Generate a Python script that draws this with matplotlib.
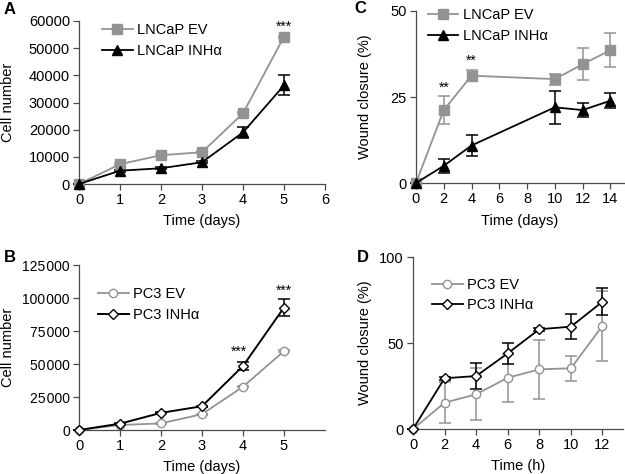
import numpy as np
import matplotlib.pyplot as plt
from matplotlib.ticker import FuncFormatter

plt.rcParams['font.family'] = ['Liberation Sans', 'DejaVu Sans']
plt.rcParams['font.size'] = 10.5

# A: LNCaP cell number
a_days = [0, 1, 2, 3, 4, 5]
a_ev = [0, 7300, 10600, 11700, 26000, 54200]
a_ev_err = [0, 300, 300, 300, 400, 400]
a_inh = [0, 4900, 5800, 8000, 19000, 36300]
a_inh_err = [0, 300, 300, 400, 2000, 3700]

# B: PC3 cell number
b_days = [0, 1, 2, 3, 4, 5]
b_ev = [0, 3800, 5000, 12000, 32800, 59800]
b_ev_err = [0, 300, 300, 400, 500, 600]
b_inh = [0, 4800, 13000, 18000, 48500, 92800]
b_inh_err = [0, 300, 400, 400, 3000, 6800]

# C: LNCaP wound closure
c_days = [0, 2, 4, 10, 12, 14]
c_ev = [0, 21.2, 31.2, 30.2, 34.5, 38.6]
c_ev_err = [0, 4.0, 1.6, 1.6, 4.7, 5.0]
c_inh = [0, 5.0, 10.9, 22.0, 21.2, 23.9]
c_inh_err = [0, 2.0, 3.0, 4.8, 2.0, 2.2]

# D: PC3 wound closure
d_hours = [0, 2, 4, 6, 8, 10, 12]
d_ev = [0, 15.3, 20.2, 29.8, 34.7, 35.3, 60.0]
d_ev_err = [0, 12.0, 15.0, 14.0, 17.3, 7.4, 20.5]
d_inh = [0, 29.5, 30.8, 44.0, 58.0, 59.5, 74.0]
d_inh_err = [0, 1.0, 7.7, 6.0, 1.0, 7.3, 8.0]

GRAY = '#939393'
AXC = '#4a4a4a'
W, H = 625, 474

fig = plt.figure(figsize=(6.25, 4.74), dpi=100)
axA = fig.add_axes([0.1264, 0.6118, 0.3936, 0.3439])
axC = fig.add_axes([0.6656, 0.6139, 0.3330, 0.3629])
axB = fig.add_axes([0.1264, 0.0928, 0.3936, 0.3481])
axD = fig.add_axes([0.6608, 0.0949, 0.3360, 0.3629])


def style(ax, ylab_px, xlab_px):
    for s in ['top', 'right']:
        ax.spines[s].set_visible(False)
    for s in ['left', 'bottom']:
        ax.spines[s].set_color(AXC)
        ax.spines[s].set_linewidth(0.9)
    ax.tick_params(direction='out', length=4.5, width=0.9, color=AXC, pad=2)
    bb = ax.get_position()
    # label positions given as pixel offsets from the axes corner
    ax.yaxis.set_label_coords(-ylab_px / (bb.width * W), 0.5)
    ax.xaxis.set_label_coords(0.5, -xlab_px / (bb.height * H))
    ax.xaxis.label.set_va('center')
    ax.yaxis.label.set_va('center')


def series(ax, x, y, e, color, marker, mfc, ms, label, lw=1.3):
    ax.errorbar(x, y, yerr=e, color=color, fmt='none', elinewidth=1.1,
                capsize=4, capthick=1.1, clip_on=False, zorder=2)
    ax.plot(x, y, color=color, marker=marker, mfc=mfc, mec=color, ms=ms,
            lw=lw, label=label, clip_on=False, zorder=3)


# A
series(axA, a_days, a_ev, a_ev_err, GRAY, 's', GRAY, 6.5, 'LNCaP EV')
series(axA, a_days, a_inh, a_inh_err, 'black', '^', 'black', 6.5, 'LNCaP INHα')
axA.set_xlim(0, 6)
axA.set_ylim(0, 60000)
axA.set_xticks(range(0, 7))
axA.set_yticks(range(0, 60001, 10000))
axA.set_xlabel('Time (days)')
axA.set_ylabel('Cell number')
axA.text(5, 57800, '***', ha='center', va='center', fontsize=10)

# C
series(axC, c_days, c_ev, c_ev_err, GRAY, 's', GRAY, 6.5, 'LNCaP EV')
series(axC, c_days, c_inh, c_inh_err, 'black', '^', 'black', 6.5, 'LNCaP INHα')
axC.set_xlim(0, 15)
axC.set_ylim(0, 50)
axC.set_xticks([0, 2, 4, 6, 8, 10, 12, 14])
axC.set_yticks([0, 25, 50])
axC.set_xlabel('Time (days)')
axC.set_ylabel('Wound closure (%)')
axC.text(2, 27.8, '**', ha='center', va='center', fontsize=10)
axC.text(4, 35.5, '**', ha='center', va='center', fontsize=10)

# B
series(axB, b_days, b_ev, b_ev_err, GRAY, 'o', 'white', 6, 'PC3 EV')
series(axB, b_days, b_inh, b_inh_err, 'black', 'D', 'white', 5, 'PC3 INHα', lw=1.4)
axB.set_xlim(0, 6)
axB.set_ylim(0, 125000)
axB.set_xticks(range(0, 6))
axB.set_yticks(range(0, 125001, 25000))
axB.yaxis.set_major_formatter(FuncFormatter(
    lambda v, p: '0' if v == 0 else '{:,}'.format(int(v)).replace(',', '\u200a')))
axB.tick_params(axis='y', labelsize=10)
axB.set_xlabel('Time (days)')
axB.set_ylabel('Cell number')
axB.text(3.9, 59000, '***', ha='center', va='center', fontsize=10)
axB.text(5, 105500, '***', ha='center', va='center', fontsize=10)

# D
series(axD, d_hours, d_ev, d_ev_err, GRAY, 'o', 'white', 6, 'PC3 EV')
series(axD, d_hours, d_inh, d_inh_err, 'black', 'D', 'white', 5, 'PC3 INHα')
axD.set_xlim(0, 13.3)
axD.set_ylim(0, 100)
axD.set_xticks([0, 2, 4, 6, 8, 10, 12])
axD.set_yticks([0, 50, 100])
axD.set_xlabel('Time (h)')
axD.set_ylabel('Wound closure (%)')

style(axA, 71, 37)
style(axB, 71, 37)
style(axC, 51, 38)
style(axD, 48, 37)

leg_kw = dict(frameon=False, handlelength=2.1, handletextpad=0.3, borderpad=0,
              borderaxespad=0, labelspacing=0.45, fontsize=10.5)
axA.legend(loc='upper left', bbox_to_anchor=(0.093, 0.985), **leg_kw)
axC.legend(loc='upper left', bbox_to_anchor=(0.057, 1.015), **leg_kw)
axB.legend(loc='upper left', bbox_to_anchor=(0.077, 0.865), **leg_kw)
axD.legend(loc='upper left', bbox_to_anchor=(0.09, 0.88), **leg_kw)

fig.text(0.016, 0.980, 'A', fontsize=12, fontweight='bold', ha='center', va='center')
fig.text(0.016, 0.4568, 'B', fontsize=12, fontweight='bold', ha='center', va='center')
fig.text(0.576, 0.983, 'C', fontsize=12, fontweight='bold', ha='center', va='center')
fig.text(0.581, 0.4568, 'D', fontsize=12, fontweight='bold', ha='center', va='center')

fig.savefig('out.png', dpi=100)
